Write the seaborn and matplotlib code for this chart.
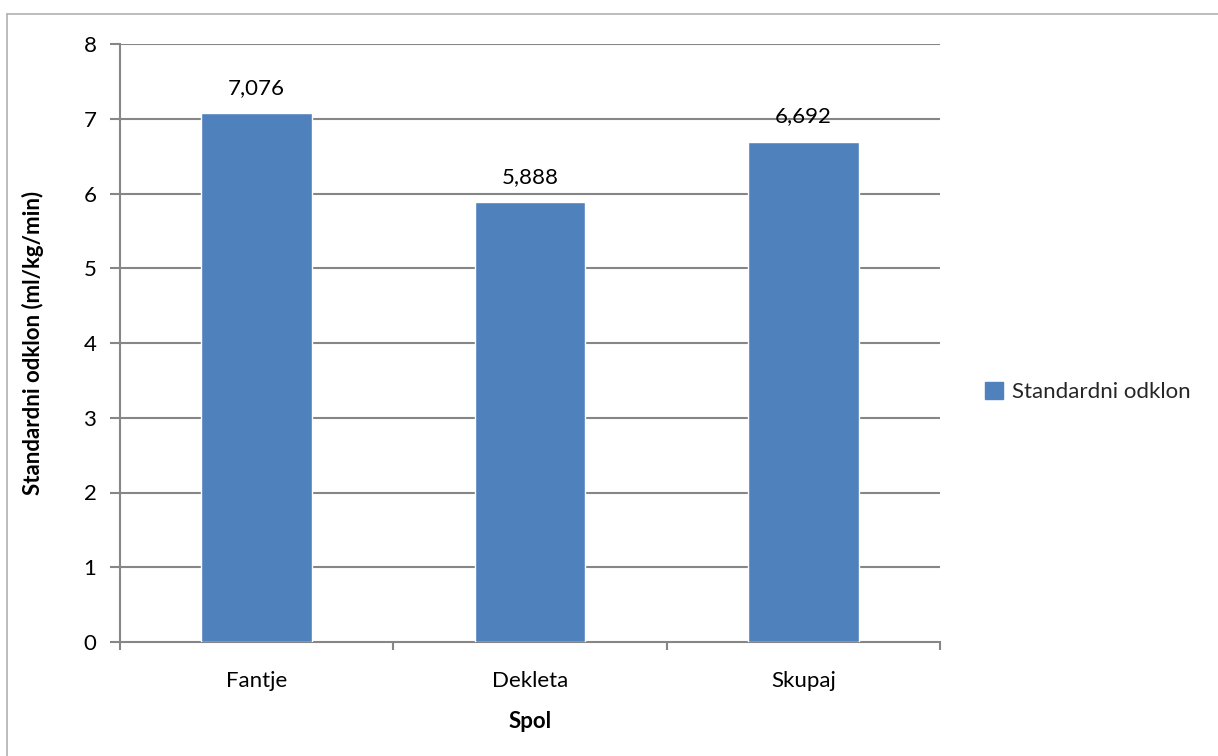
import matplotlib
matplotlib.use("Agg")
import matplotlib.pyplot as plt
import seaborn as sns
import pandas as pd
from matplotlib.lines import Line2D
from matplotlib.patches import Patch
from matplotlib.ticker import FixedLocator

categories = ["Fantje", "Dekleta", "Skupaj"]
values = [7.076, 5.888, 6.692]
series_name = "Standardni odklon"
y_ticks = [0, 1, 2, 3, 4, 5, 6, 7, 8]

sns.set_theme(style="white")
plt.rcParams['font.family'] = ['Lato', 'DejaVu Sans']

df = pd.DataFrame({"Spol": categories, "val": values})

fig = plt.figure(figsize=(12.18, 7.56), dpi=100)
ax = fig.add_axes([120/1218, 1-642/756, 820/1218, 598/756])

bar_color = "#4f81bd"
grid_color = "#868686"
fs = 16

sns.barplot(data=df, x="Spol", y="val", color=bar_color, width=0.405,
            saturation=1, ax=ax, zorder=3)

ax.set_ylim(0, 8)
ax.set_xlim(-0.5, 2.5)
ax.set_yticks(y_ticks)
ax.set_yticklabels([str(t) for t in y_ticks], fontsize=fs, color="black")
ax.tick_params(axis="y", length=7, width=1.5, color=grid_color, pad=10, left=True)
for t in y_ticks[1:]:
    ax.axhline(t, color=grid_color, lw=1.5, zorder=1)

ax.xaxis.set_minor_locator(FixedLocator([-0.5, 0.5, 1.5, 2.5]))
ax.tick_params(axis="x", which="major", length=0, labelsize=fs, pad=21, colors="black")
ax.tick_params(axis="x", which="minor", length=6, width=1.5, color=grid_color, bottom=True)

for side in ["top", "right"]:
    ax.spines[side].set_visible(False)
for side in ["left", "bottom"]:
    ax.spines[side].set_color(grid_color)
    ax.spines[side].set_linewidth(1.5)

ax.set_xlabel("Spol", fontsize=fs, fontweight="bold", labelpad=14, color="black")
ax.set_ylabel("Standardni odklon (ml/kg/min)", fontsize=fs, fontweight="bold",
              labelpad=28, color="black")

for i, v in enumerate(values):
    ax.annotate(f"{v:.3f}".replace(".", ","), xy=(i, v), xytext=(0, 11),
                textcoords="offset points", ha="center", va="bottom",
                fontsize=fs, color="black")

handles = [Patch(facecolor=bar_color, edgecolor=bar_color)]
fig.legend(handles, [series_name], loc="center left",
           bbox_to_anchor=(965/1218, 1-392/756), frameon=False, fontsize=fs,
           handlelength=0.8, handleheight=0.8, handletextpad=0.4)

# outer chart border (top and left visible)
fig.add_artist(Line2D([7/1218, 1.0], [1-14/756, 1-14/756], color="#b0b0b0", lw=1.2,
                      transform=fig.transFigure))
fig.add_artist(Line2D([7/1218, 7/1218], [0, 1-14/756], color="#b0b0b0", lw=1.2,
                      transform=fig.transFigure))

fig.savefig("out.png", dpi=100)
